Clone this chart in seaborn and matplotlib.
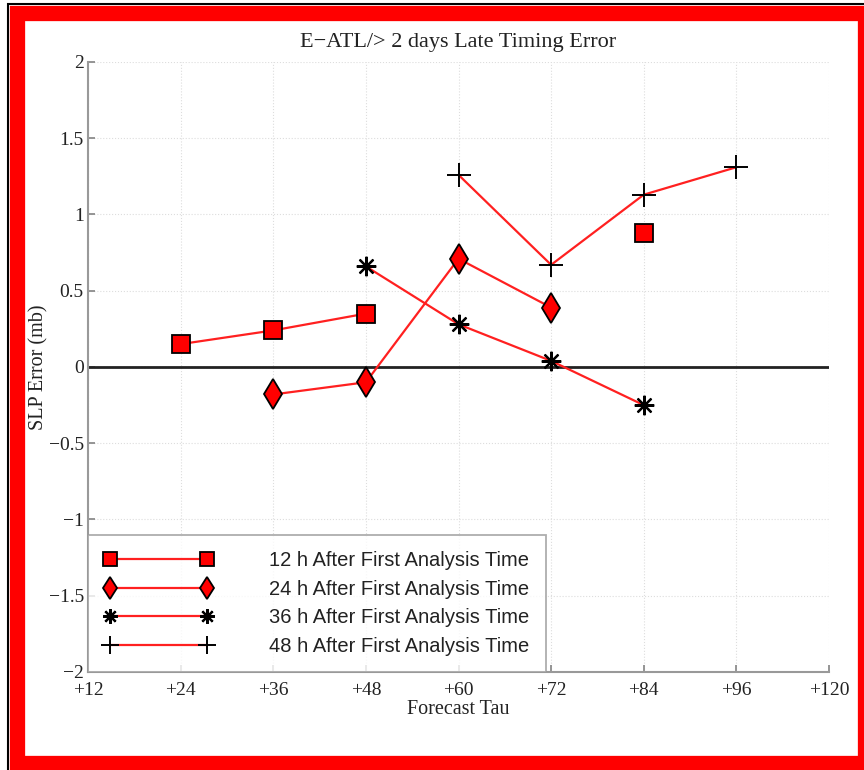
import numpy as np
import pandas as pd
import matplotlib.pyplot as plt
import seaborn as sns
from matplotlib.lines import Line2D
from matplotlib.patches import Rectangle

# Forecast tau (h) and SLP error (mb); NaN = no value
tau = [24, 36, 48, 60, 72, 84, 96]
err_12h = [0.15, 0.24, 0.35, np.nan, np.nan, 0.88, np.nan]
err_24h = [np.nan, -0.18, -0.10, 0.71, 0.39, np.nan, np.nan]
err_36h = [np.nan, np.nan, 0.66, 0.28, 0.04, -0.25, np.nan]
err_48h = [np.nan, np.nan, np.nan, 1.26, 0.67, 1.13, 1.31]

labels = ["12 h After First Analysis Time", "24 h After First Analysis Time",
          "36 h After First Analysis Time", "48 h After First Analysis Time"]
# the x axis is evenly spaced by tick, not by hours
x_ticks = [12, 24, 36, 48, 60, 72, 84, 96, 120]
y_ticks = [-2, -1.5, -1, -0.5, 0, 0.5, 1, 1.5, 2]

rows = []
for lab, vals in zip(labels, [err_12h, err_24h, err_36h, err_48h]):
    seg = 0
    for t, v in zip(tau, vals):
        if np.isnan(v):
            seg += 1
            continue
        rows.append({"series": lab, "pos": x_ticks.index(t), "err": v, "seg": seg})
df = pd.DataFrame(rows)

sns.set_theme(style="white")
plt.rcParams["font.family"] = ["Liberation Serif", "DejaVu Serif"]

W, H = 864, 770
fig = plt.figure(figsize=(W / 100, H / 100), dpi=100)
ax = fig.add_axes([88 / W, 1 - 672 / H, (829 - 88) / W, (672 - 62) / H])

# black outline + thick red frame around the figure
fig.patches.append(Rectangle((8 / W, -20 / H), 900 / W, (H - 4 + 20) / H,
                             transform=fig.transFigure, fill=False,
                             edgecolor="black", linewidth=1.5, zorder=0))
fig.patches.append(Rectangle((17 / W, 1 - 763 / H), (865 - 17) / W, (763 - 12.5) / H,
                             transform=fig.transFigure, fill=False,
                             edgecolor="#ff0000", linewidth=11, zorder=0))

styles = {
    labels[0]: dict(marker="s", markersize=12.5, markerfacecolor="red", markeredgecolor="black", markeredgewidth=1.3),
    labels[1]: dict(marker="d", markersize=15, markerfacecolor="red", markeredgecolor="black", markeredgewidth=1.3),
    labels[2]: dict(marker=(8, 2, 0), markersize=14, markeredgecolor="black", markeredgewidth=1.6),
    labels[3]: dict(marker="+", markersize=17, markeredgecolor="black", markeredgewidth=1.4),
}

ax.axhline(0, color="#222222", linewidth=2, zorder=1)

for lab in labels:
    sub = df[df["series"] == lab]
    sns.lineplot(data=sub, x="pos", y="err", units="seg", estimator=None,
                 color="#ff2020", linewidth=1.6, ax=ax, legend=False,
                 zorder=3, **styles[lab])

ax.set_xlim(0, len(x_ticks) - 1)
ax.set_ylim(-2, 2)
ax.set_xticks(range(len(x_ticks)))
ax.set_xticklabels([f"+{t}" for t in x_ticks])
ax.set_yticks(y_ticks)
ax.set_yticklabels([f"{v:g}".replace("-", "\u2212") for v in y_ticks])
ax.tick_params(direction="in", length=5, color="#888888", labelsize=14,
               labelcolor="#222222", bottom=True, left=True)
ax.tick_params(axis="x", pad=7)
ax.tick_params(axis="y", pad=3)
ax.grid(True, linestyle=":", color="#dddddd", linewidth=0.8)
for side in ["top", "right"]:
    ax.spines[side].set_visible(False)
for side in ["left", "bottom"]:
    ax.spines[side].set_color("#999999")
    ax.spines[side].set_linewidth(1.5)

ax.set_title("E\u2212ATL/> 2 days Late Timing Error", fontsize=16, color="#222222", pad=11)
ax.set_xlabel("Forecast Tau", fontsize=14.5, color="#222222", labelpad=1)
ax.set_ylabel("SLP Error (mb)", fontsize=14.5, color="#222222", labelpad=0)

leg_styles = []
for lab in labels:
    s = dict(styles[lab])
    s["markersize"] = s["markersize"] * 0.75
    leg_styles.append(s)
handles = [Line2D([0], [0], color="#ff2020", linewidth=1.6, **s) for s in leg_styles]
leg = ax.legend(handles, labels, loc="lower left", bbox_to_anchor=(0, 0),
                borderaxespad=0, numpoints=2, handlelength=5.4, handletextpad=2.8,
                labelspacing=0.48, borderpad=0.8, frameon=True, fancybox=False,
                prop={"family": "Liberation Sans", "size": 14.5})
leg.get_frame().set_edgecolor("#999999")
leg.get_frame().set_linewidth(1.3)
for txt in leg.get_texts():
    txt.set_color("#222222")

fig.savefig("out.png", dpi=100)
